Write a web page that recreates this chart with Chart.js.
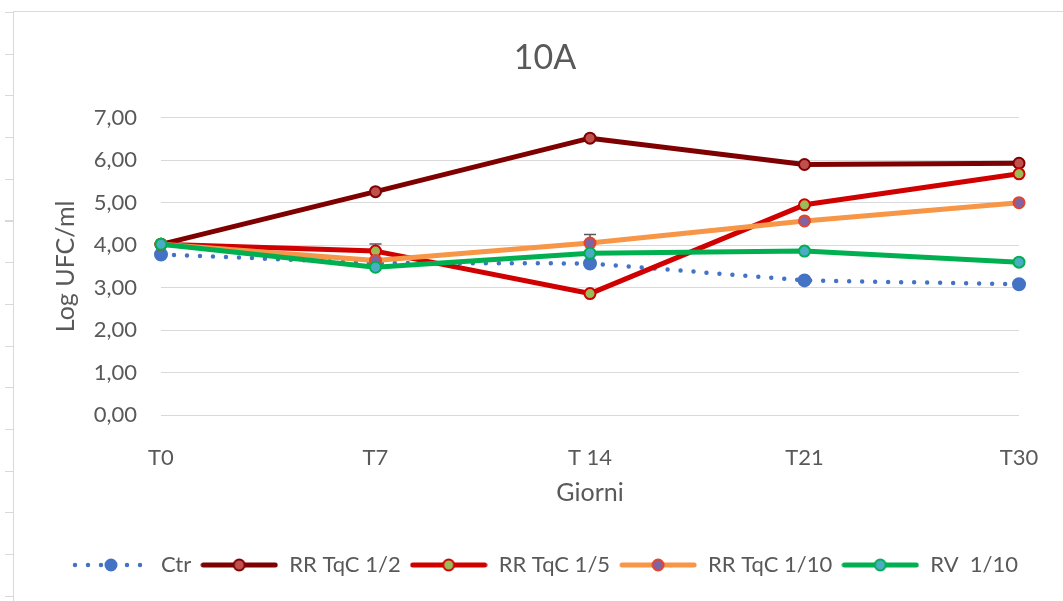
<!DOCTYPE html>
<html>
<head>
<meta charset="utf-8">
<title>10A</title>
<script src="https://cdn.jsdelivr.net/npm/chart.js@4.4.0/dist/chart.umd.min.js"></script>
<style>
  html, body { margin: 0; padding: 0; background: #fff; }
  #wrap { position: relative; width: 1063px; height: 601px; overflow: hidden; }
  #frameTop { position: absolute; left: 13px; top: 11px; right: 0; height: 1px; background: #d9d9d9; }
  #frameLeft { position: absolute; left: 13px; top: 11px; bottom: 0; width: 1px; background: #d9d9d9; }
  #rowMarks { position: absolute; left: 5px; top: 12px; bottom: 0; width: 8px;
    background: repeating-linear-gradient(to bottom, #d9d9d9 0px, #d9d9d9 1px, transparent 1px, transparent 41.7px); }
  #tempChart { position: absolute; left: 0; top: 0; }
</style>
</head>
<body>
<div id="wrap">
  <div id="frameTop"></div>
  <div id="frameLeft"></div>
  <div id="rowMarks"></div>
  <canvas id="tempChart" width="1063" height="601"></canvas>
</div>
<script>
var labels = ['T0', 'T7', 'T 14', 'T21', 'T30'];
var ctr = [3.78, 3.58, 3.57, 3.17, 3.08];
var rrTqC12 = [4.02, 5.26, 6.52, 5.90, 5.93];
var rrTqC15 = [4.02, 3.86, 2.86, 4.95, 5.68];
var rrTqC110 = [4.02, 3.64, 4.05, 4.57, 5.00];
var rv110 = [4.02, 3.48, 3.81, 3.86, 3.60];
// deviazione standard (solo dove visibile)
var errRrTqC15 = [0, 0.17, 0, 0, 0];
var errRrTqC110 = [0, 0, 0.20, 0, 0];

var font = 'Lato, "Liberation Sans", sans-serif';
var grey = '#595959';
var frameCentre = 545;

var series = [
    { label: 'Ctr', data: ctr, line: '#4472C4', fill: '#4472C4', edge: '#4472C4', dotted: true },
    { label: 'RR TqC 1/2', data: rrTqC12, line: '#7F0000', fill: '#C0504D', edge: '#7F0000' },
    { label: 'RR TqC 1/5', data: rrTqC15, line: '#D00000', fill: '#9BBB59', edge: '#D00000', err: errRrTqC15 },
    { label: 'RR TqC 1/10', data: rrTqC110, line: '#F79646', fill: '#8064A2', edge: '#E8432A', err: errRrTqC110 },
    { label: 'RV  1/10', data: rv110, line: '#00B050', fill: '#4BACC6', edge: '#00B050' }
];

// little line + marker swatch for the legend
function legendIcon(s) {
    var c = document.createElement('canvas');
    c.width = 78;
    c.height = 16;
    var g = c.getContext('2d');
    g.strokeStyle = s.line;
    g.lineCap = 'round';
    if (s.dotted) {
        g.lineWidth = 4.5;
        g.setLineDash([0, 13]);
        g.beginPath();
        g.moveTo(3, 8);
        g.lineTo(76, 8);
        g.stroke();
        g.setLineDash([]);
    } else {
        g.lineWidth = 5;
        g.beginPath();
        g.moveTo(3, 8);
        g.lineTo(75, 8);
        g.stroke();
    }
    g.beginPath();
    g.arc(39, 8, 5.5, 0, Math.PI * 2);
    g.fillStyle = s.fill;
    g.fill();
    g.lineWidth = 2;
    g.strokeStyle = s.edge;
    g.stroke();
    return c;
}

var legendIcons = series.map(legendIcon);

var datasets = series.map(function (s, i) {
    return {
        label: s.label,
        data: s.data,
        errors: s.err,
        borderColor: s.line,
        backgroundColor: s.fill,
        borderWidth: s.dotted ? 4.5 : 5,
        borderDash: s.dotted ? [0, 13] : [],
        borderCapStyle: 'round',
        borderJoinStyle: 'round',
        pointRadius: s.dotted ? 6 : 5.5,
        pointBorderWidth: 2,
        pointBackgroundColor: s.fill,
        pointBorderColor: s.edge,
        tension: 0,
        fill: false,
        order: series.length - i
    };
});

// error bars, drawn under the lines
var errorBars = {
    id: 'errorBars',
    beforeDatasetsDraw: function (chart) {
        var ctx = chart.ctx;
        var xs = chart.scales.x, ys = chart.scales.y;
        ctx.save();
        ctx.strokeStyle = '#595959';
        ctx.lineWidth = 1.5;
        chart.data.datasets.forEach(function (ds) {
            if (!ds.errors) return;
            ds.errors.forEach(function (e, i) {
                if (!e) return;
                var x = xs.getPixelForValue(i);
                var top = ys.getPixelForValue(ds.data[i] + e);
                var bot = ys.getPixelForValue(ds.data[i] - e);
                ctx.beginPath();
                ctx.moveTo(x, top); ctx.lineTo(x, bot);
                ctx.moveTo(x - 6, top); ctx.lineTo(x + 6, top);
                ctx.moveTo(x - 6, bot); ctx.lineTo(x + 6, bot);
                ctx.stroke();
            });
        });
        ctx.restore();
    }
};

// title and legend are centred on the whole frame, not the plot
var frameCentring = {
    id: 'frameCentring',
    afterLayout: function (chart) {
        [chart.titleBlock, chart.legend].forEach(function (box) {
            if (!box) return;
            var shift = frameCentre - (box.left + box.right) / 2;
            box.left += shift;
            box.right += shift;
        });
    }
};

var chart = document.getElementById('tempChart');
var tempChart = new Chart(chart, {
    type: 'line',
    data: { labels: labels, datasets: datasets },
    plugins: [errorBars, frameCentring],
    options: {
        responsive: false,
        animation: false,
        layout: { padding: { left: 13, right: 44, top: 0, bottom: 15 } },
        plugins: {
            tooltip: { enabled: false },
            title: {
                display: true,
                text: '10A',
                color: grey,
                font: { family: font, size: 34, weight: 'normal' },
                padding: { top: 38, bottom: 39 }
            },
            legend: {
                position: 'bottom',
                labels: {
                    usePointStyle: true,
                    pointStyleWidth: 78,
                    boxHeight: 16,
                    padding: 9,
                    color: grey,
                    font: { family: font, size: 22 },
                    sort: function (a, b) { return a.datasetIndex - b.datasetIndex; },
                    generateLabels: function (c) {
                        var items = Chart.defaults.plugins.legend.labels.generateLabels(c);
                        items.forEach(function (it) { it.pointStyle = legendIcons[it.datasetIndex]; });
                        return items;
                    }
                }
            }
        },
        scales: {
            x: {
                grid: { display: false },
                border: { display: false },
                ticks: { color: grey, padding: 22, font: { family: font, size: 22 } },
                title: {
                    display: true,
                    text: 'Giorni',
                    color: grey,
                    font: { family: font, size: 25 },
                    padding: { top: 0, bottom: 37 }
                },
                afterFit: function (s) { s.height = 130; }
            },
            y: {
                min: 0,
                max: 7,
                grid: { color: '#d9d9d9', lineWidth: 1, drawTicks: false },
                border: { display: false },
                ticks: {
                    stepSize: 1,
                    padding: 24,
                    color: grey,
                    font: { family: font, size: 22 },
                    callback: function (v) { return v.toFixed(2).replace('.', ','); }
                },
                title: {
                    display: true,
                    text: 'Log UFC/ml',
                    color: grey,
                    font: { family: font, size: 25 },
                    padding: { top: 38, bottom: 0 }
                },
                afterFit: function (s) { s.width = 148; }
            }
        }
    }
});
</script>
</body>
</html>
